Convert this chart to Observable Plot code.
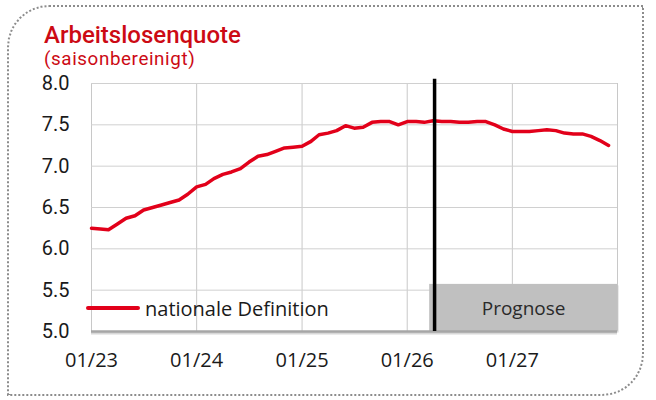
<!DOCTYPE html>
<html>
<head>
<meta charset="utf-8">
<script src="https://cdn.jsdelivr.net/npm/d3@7"></script>
<script src="https://cdn.jsdelivr.net/npm/@observablehq/plot@0.6"></script>
<style>
  html, body { margin: 0; padding: 0; background: #fff; }
  #wrap { position: relative; width: 656px; height: 400px; overflow: hidden; font-family: "Open Sans", sans-serif; }
  #frame { position: absolute; left: 7px; top: 5px; width: 633px; height: 387px;
           border: 2.5px dotted #8c8c8c; border-radius: 42px 0 42px 0; }
  #title { position: absolute; left: 44px; top: 22.5px; font-family: Roboto, sans-serif; font-size: 24px; line-height: 24px; font-weight: 500;
           color: #cc0a14; white-space: nowrap; }
  #subtitle { position: absolute; left: 44px; top: 50px; font-family: Roboto, sans-serif; font-size: 18.8px; line-height: 18.8px;
              letter-spacing: 0.6px; color: #cc0a14; white-space: nowrap; }
  #legend { position: absolute; left: 86px; top: 296px; height: 24px; display: flex; align-items: center;
            font-size: 20px; color: #1a1a1a; white-space: nowrap; }
  #legend .sw { display: inline-block; width: 54px; height: 4px; background: #e2001a; border-radius: 2px; margin-right: 5px; }
  #chart { position: absolute; left: 0; top: 0; }
</style>
</head>
<body>
<div id="wrap">
  <div id="frame"></div>
  <div id="chart"></div>
  <div id="title">Arbeitslosenquote</div>
  <div id="subtitle">(saisonbereinigt)</div>
  <div id="legend"><span class="sw"></span><span>nationale Definition</span></div>
</div>
<script>
// ---- data ----
const startMonth = "2023-01-01";
const seriesName = "nationale Definition";
const values = [
  6.25, 6.24, 6.23, 6.30, 6.37, 6.40, 6.47, 6.50, 6.53, 6.56, 6.59, 6.66, // 2023
  6.75, 6.78, 6.85, 6.90, 6.93, 6.97, 7.05, 7.12, 7.14, 7.18, 7.22, 7.23, // 2024
  7.24, 7.30, 7.38, 7.40, 7.43, 7.49, 7.46, 7.47, 7.53, 7.54, 7.54, 7.50, // 2025
  7.54, 7.54, 7.53, 7.55, 7.54, 7.54, 7.53, 7.53, 7.54, 7.54, 7.50, 7.45, // 2026
  7.42, 7.42, 7.42, 7.43, 7.44, 7.43, 7.40, 7.39, 7.39, 7.36, 7.31, 7.25  // 2027
];
const xDomain = ["2023-01-01", "2028-01-01"];
const xTickLabels = ["01/23", "01/24", "01/25", "01/26", "01/27"];
const xGridDates = ["2023-01-01", "2024-01-01", "2025-01-01", "2026-01-01", "2027-01-01", "2028-01-01"];
const yTicks = [5.0, 5.5, 6.0, 6.5, 7.0, 7.5, 8.0];
const forecastLine = "2026-04-06";
const forecastBox = { start: "2026-03-20", end: "2028-01-01", low: 5.0, high: 5.57, label: "Prognose" };

// ---- build ----
const t0 = new Date(startMonth);
const data = values.map((v, i) => ({ date: d3.utcMonth.offset(t0, i), value: v }));
const parse = s => new Date(s);
const xTicks = xTickLabels.map(s => { const [m, y] = s.split("/"); return new Date(Date.UTC(2000 + +y, +m - 1, 1)); });
const boxRow = [{ x1: parse(forecastBox.start), x2: parse(forecastBox.end), y1: forecastBox.low, y2: forecastBox.high, label: forecastBox.label }];
const boxMid = [{ x: new Date((parse(forecastBox.start).getTime() + parse(forecastBox.end).getTime()) / 2),
                  y: (forecastBox.low + forecastBox.high) / 2, label: forecastBox.label }];

const chart = Plot.plot({
  width: 656,
  height: 400,
  marginLeft: 91,
  marginRight: 39,
  marginTop: 83,
  marginBottom: 69,
  style: { fontFamily: "Open Sans, sans-serif", fontSize: "20px", color: "#1a1a1a", background: "transparent", overflow: "visible" },
  x: { type: "utc", domain: xDomain.map(parse) },
  y: { domain: [yTicks[0], yTicks[yTicks.length - 1]] },
  marks: [
    Plot.gridX(xGridDates.map(parse), { stroke: "#c8c8c8", strokeOpacity: 1, strokeWidth: 1 }),
    Plot.gridY(yTicks, { stroke: "#d0d0d0", strokeOpacity: 1, strokeWidth: 1 }),
    Plot.rect(boxRow, { x1: "x1", x2: "x2", y1: "y1", y2: "y2", fill: "#bfbfbf", dx: 1.5, dy: 1.5, fillOpacity: 0.6 }),
    Plot.rect(boxRow, { x1: "x1", x2: "x2", y1: "y1", y2: "y2", fill: "#c0c0c0" }),
    Plot.ruleY([yTicks[0]], { stroke: "#d8d8d8", strokeWidth: 3, dy: 1.5 }),
    Plot.ruleY([yTicks[0]], { stroke: "#a6a6a6", strokeWidth: 2.5 }),
    Plot.text(boxMid, { x: "x", y: "y", text: "label", fill: "#2a2a2a", fontSize: 19, dy: 1 }),
    Plot.line(data, { x: "date", y: "value", stroke: "#e2001a", strokeWidth: 3.5, strokeLinejoin: "round", strokeLinecap: "round" }),
    Plot.ruleX([parse(forecastLine)], { y1: yTicks[0], y2: 8.05, stroke: "#000", strokeWidth: 3.5, clip: false }),
    Plot.axisY(yTicks, { tickSize: 0, tickPadding: 22, tickFormat: d3.format(".1f"), fill: "#1a1a1a", fontSize: 20, fontFamily: "Roboto, sans-serif", label: null }),
    Plot.axisX(xTicks, { tickSize: 0, tickPadding: 21, tickFormat: d => d3.utcFormat("%m/%y")(d), fill: "#1a1a1a", fontSize: 20, label: null })
  ]
});
document.getElementById("chart").appendChild(chart);
</script>
</body>
</html>
